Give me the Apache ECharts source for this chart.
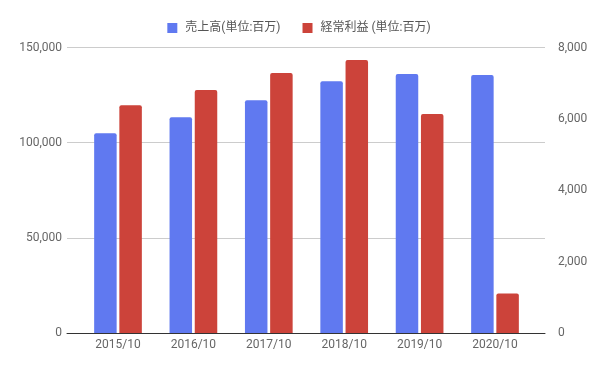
<!DOCTYPE html>
<html><head><meta charset="utf-8">
<script src="https://cdn.jsdelivr.net/npm/echarts@6/dist/echarts.min.js"></script>
<style>html,body{margin:0;padding:0;background:#fff}#c{width:598px;height:369px}</style>
</head><body><div id="c"></div>
<script>
const categories = ['2015/10','2016/10','2017/10','2018/10','2019/10','2020/10'];
const salesName = '売上高(単位:百万)';
const profitName = '経常利益 (単位:百万)';
const sales = [105000, 113300, 122300, 132300, 136100, 135600];
const profit = [6380, 6810, 7285, 7650, 6135, 1110];
const leftTicks = {min: 0, max: 150000, interval: 50000};
const rightTicks = {min: 0, max: 8000, interval: 2000};

const font = 'Roboto, "Noto Sans CJK JP", sans-serif';
const chart = echarts.init(document.getElementById('c'), null, {renderer: 'canvas'});
const fmt = v => v.toLocaleString('en-US');
chart.setOption({
  animation: false,
  textStyle: {fontFamily: font},
  legend: {
    top: 17, left: 'center', icon: 'rect', itemWidth: 10, itemHeight: 10, itemGap: 22,
    textStyle: {fontSize: 12, color: '#555', fontFamily: font, padding: [0, 0, 0, 3]},
    data: [salesName, profitName]
  },
  grid: [
    {left: 67, right: 53, top: 47.5, bottom: 36},
    {left: 80.3, right: 65.3, top: 47.5, bottom: 36}
  ],
  xAxis: [
    {gridIndex: 0, type: 'category', data: categories, axisLabel: {show: false}, axisTick: {show: false},
     axisLine: {lineStyle: {color: '#333', width: 1}}, z: 10},
    {gridIndex: 1, type: 'category', data: categories, axisTick: {show: false}, axisLine: {show: false},
     axisLabel: {color: '#666', fontSize: 12, margin: 6, fontFamily: font}}
  ],
  yAxis: [
    {gridIndex: 0, type: 'value', position: 'left', ...leftTicks,
     axisLabel: {color: '#666', fontSize: 12, margin: 5, formatter: fmt, fontFamily: font},
     splitLine: {lineStyle: {color: '#ccc'}}, axisLine: {show: false}, axisTick: {show: false}},
    {gridIndex: 0, type: 'value', position: 'right', ...rightTicks,
     axisLabel: {color: '#666', fontSize: 12, margin: 13, formatter: fmt, fontFamily: font},
     splitLine: {show: false}, axisLine: {show: false}, axisTick: {show: false}},
    {gridIndex: 1, type: 'value', position: 'left', ...leftTicks, show: false},
    {gridIndex: 1, type: 'value', position: 'right', ...rightTicks, show: false}
  ],
  series: [
    {name: salesName, type: 'bar', xAxisIndex: 1, yAxisIndex: 2, data: sales,
     barWidth: 22.5, barGap: '12%', itemStyle: {color: '#6079F0', borderRadius: [2,2,0,0]}},
    {name: profitName, type: 'bar', xAxisIndex: 1, yAxisIndex: 3, data: profit,
     barWidth: 22.5, barGap: '12%', itemStyle: {color: '#CC433A', borderRadius: [2,2,0,0]}}
  ]
});
</script></body></html>
